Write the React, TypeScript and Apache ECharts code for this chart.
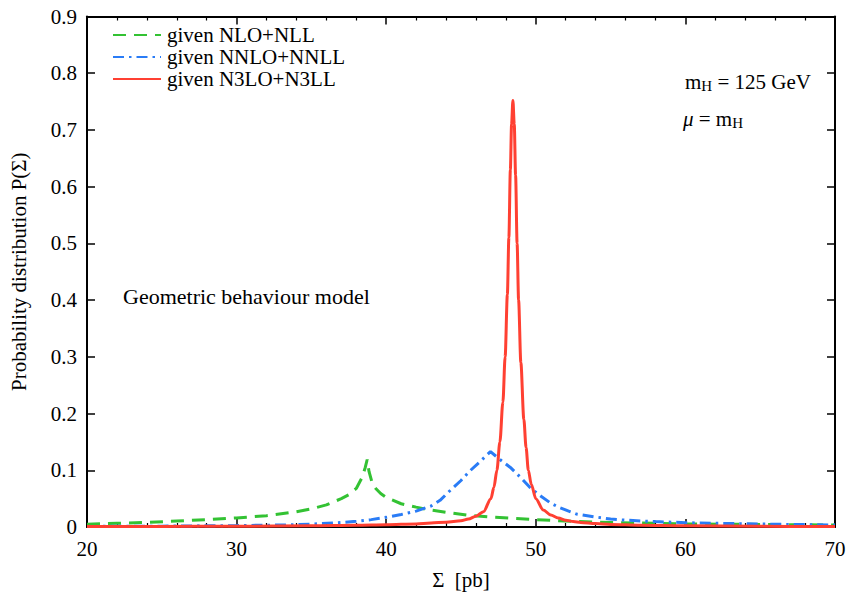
import React, { useEffect, useRef } from "react";
import * as echarts from "echarts";

// Σ [pb] and P(Σ)
const sigmaNLO = [20, 22, 24, 26, 28, 30, 32, 34, 35, 36, 37, 37.5, 38, 38.4, 38.6, 38.73, 38.85, 39.07, 39.3, 39.63, 40, 41, 42, 42.74, 44, 45.4, 47, 50, 52.5, 55, 58, 60, 65, 70];
const pNLO = [0.005, 0.0065, 0.008, 0.0105, 0.013, 0.016, 0.02, 0.027, 0.032, 0.039, 0.05, 0.057, 0.068, 0.088, 0.105, 0.119, 0.098, 0.077, 0.068, 0.059, 0.052, 0.041, 0.035, 0.031, 0.026, 0.021, 0.0176, 0.013, 0.01, 0.008, 0.0065, 0.0053, 0.0045, 0.0035];

const sigmaNNLO = [20, 25, 30, 33, 35, 37, 38, 39, 40, 41, 42, 43, 43.6, 44.3, 45, 45.6, 46.3, 46.97, 47.6, 48.3, 49, 49.6, 50.3, 51, 51.6, 52.7, 53.9, 55, 56, 58, 60, 62, 65, 70];
const pNNLO = [0.001, 0.0015, 0.0025, 0.0035, 0.005, 0.008, 0.01, 0.013, 0.017, 0.022, 0.028, 0.037, 0.047, 0.065, 0.082, 0.099, 0.116, 0.133, 0.119, 0.105, 0.087, 0.07, 0.055, 0.042, 0.034, 0.023, 0.018, 0.014, 0.012, 0.0095, 0.0076, 0.0065, 0.0052, 0.0035];

const sigmaN3LO = [20, 25, 30, 35, 38, 40, 42, 43, 44, 45, 45.5, 46, 46.5, 47, 47.2, 47.4, 47.6, 47.8, 47.95, 48.1, 48.2, 48.3, 48.38, 48.47, 48.56, 48.65, 48.75, 48.85, 49, 49.2, 49.35, 49.5, 49.7, 50, 50.5, 51, 51.5, 52, 52.5, 53, 54, 55, 57, 60, 65, 70];
const pN3LO = [0.0008, 0.001, 0.0013, 0.002, 0.003, 0.004, 0.0055, 0.007, 0.0085, 0.011, 0.014, 0.019, 0.027, 0.05, 0.07, 0.1, 0.15, 0.22, 0.3, 0.41, 0.51, 0.63, 0.71, 0.752, 0.71, 0.62, 0.5, 0.4, 0.29, 0.19, 0.14, 0.1, 0.075, 0.05, 0.03, 0.021, 0.016, 0.012, 0.0095, 0.008, 0.006, 0.0045, 0.003, 0.002, 0.0012, 0.0008];

const seriesNames = ["given NLO+NLL", "given NNLO+NNLL", "given N3LO+N3LL"];
const xTicks = { min: 20, max: 70, interval: 10 };
const yTicks = { min: 0, max: 0.9, interval: 0.1 };

const FONT = "'Liberation Serif', 'DejaVu Serif', serif";
const FS = 21;
const FS_TEXT = 22;

const pairs = (xs: number[], ys: number[]) => xs.map((x, i) => [x, ys[i]]);

export default function App() {
  const ref = useRef<HTMLDivElement>(null);
  useEffect(() => {
    if (!ref.current) return;
    const chart = echarts.init(ref.current, undefined, { renderer: "svg" });
    const axisLine = { show: true, onZero: false, lineStyle: { color: "#000", width: 2 } };
    const baseX = {
      type: "value" as const,
      min: xTicks.min,
      max: xTicks.max,
      interval: xTicks.interval,
      axisLine,
      splitLine: { show: false },
      axisTick: { inside: true, length: 8, lineStyle: { color: "#000", width: 1.5 } },
      minorTick: { show: true, splitNumber: 5, length: 4, lineStyle: { color: "#000", width: 1.2 } },
    };
    const baseY = {
      type: "value" as const,
      min: yTicks.min,
      max: yTicks.max,
      interval: yTicks.interval,
      axisLine,
      splitLine: { show: false },
      axisTick: { inside: true, length: 8, lineStyle: { color: "#000", width: 1.5 } },
    };
    chart.setOption({
      animation: false,
      backgroundColor: "#fff",
      grid: { left: 86, right: 14, top: 16.5, bottom: 68, containLabel: false },
      legend: {
        orient: "vertical",
        left: 107,
        top: 19,
        itemWidth: 48,
        itemHeight: 10,
        itemGap: 0,
        itemStyle: { opacity: 0, borderWidth: 0 },
        textStyle: { fontFamily: FONT, fontSize: FS, color: "#000", lineHeight: 22, padding: [0, 0, 0, 1] },
        data: seriesNames,
      },
      xAxis: [
        {
          ...baseX,
          position: "bottom",
          name: "Σ  [pb]",
          nameLocation: "middle",
          nameGap: 42,
          nameTextStyle: { fontFamily: FONT, fontSize: FS, color: "#000" },
          axisLabel: { fontFamily: FONT, fontSize: FS, color: "#000", margin: 11 },
        },
        { ...baseX, position: "top", axisLabel: { show: false } },
      ],
      yAxis: [
        {
          ...baseY,
          position: "left",
          name: "Probability distribution P(Σ)",
          nameLocation: "middle",
          nameGap: 58,
          nameTextStyle: { fontFamily: FONT, fontSize: FS, color: "#000" },
          axisLabel: { fontFamily: FONT, fontSize: FS, color: "#000", margin: 10 },
        },
        { ...baseY, position: "right", axisLabel: { show: false } },
      ],
      series: [
        {
          name: seriesNames[0],
          type: "line",
          data: pairs(sigmaNLO, pNLO),
          symbol: "none",
          smooth: false,
          lineStyle: { color: "#33c233", width: 3, type: [13, 8] },
          itemStyle: { color: "#33c233" },
        },
        {
          name: seriesNames[1],
          type: "line",
          data: pairs(sigmaNNLO, pNNLO),
          symbol: "none",
          smooth: false,
          lineStyle: { color: "#2a7cf6", width: 3, type: [11, 5, 2.5, 5] },
          itemStyle: { color: "#2a7cf6" },
        },
        {
          name: seriesNames[2],
          type: "line",
          data: pairs(sigmaN3LO, pN3LO),
          symbol: "none",
          smooth: 0.3,
          smoothMonotone: "x",
          lineStyle: { color: "#ff4032", width: 3 },
          itemStyle: { color: "#ff4032" },
        },
      ],
      graphic: [
        {
          type: "text",
          left: 123,
          top: 285,
          style: { text: "Geometric behaviour model", font: `${FS_TEXT}px ${FONT}`, fill: "#000" },
        },
        {
          type: "text",
          left: 685,
          top: 71,
          style: {
            text: "{a|m}{s|H}{a| = 125 GeV}",
            fill: "#000",
            rich: {
              a: { fontFamily: FONT, fontSize: FS, fill: "#000" },
              s: { fontFamily: FONT, fontSize: 15, fill: "#000", padding: [9, 0, 0, 0] },
            },
          },
        },
        {
          type: "text",
          left: 683,
          top: 108,
          style: {
            text: "{i|μ}{a| = m}{s|H}",
            fill: "#000",
            rich: {
              i: { fontFamily: FONT, fontSize: FS, fontStyle: "italic", fill: "#000" },
              a: { fontFamily: FONT, fontSize: FS, fill: "#000" },
              s: { fontFamily: FONT, fontSize: 15, fill: "#000", padding: [9, 0, 0, 0] },
            },
          },
        },
      ],
    });
    return () => chart.dispose();
  }, []);
  return <div ref={ref} style={{ position: "absolute", left: 0, top: 0, width: 849, height: 595 }} />;
}
